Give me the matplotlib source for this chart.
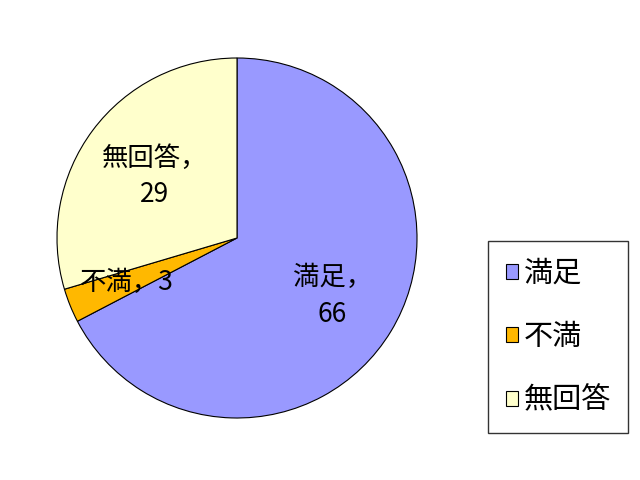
import matplotlib
matplotlib.use("Agg")
import matplotlib.pyplot as plt
import numpy as np

plt.rcParams['font.family'] = ['Noto Sans CJK JP', 'DejaVu Sans']

categories = ['満足', '不満', '無回答']
values = [66, 3, 29]
colors = ['#9999FF', '#FFB800', '#FFFFCC']
label_texts = ['満足，\n66', '不満，3', '無回答，\n29']
label_dist = [0.62, 0.66, 0.57]

fig = plt.figure(figsize=(6.4, 4.8), dpi=100)
ax = fig.add_axes([57/640, 62/480, 360/640, 360/480])
wedges, _ = ax.pie(values, colors=colors, startangle=90, counterclock=False,
                   wedgeprops=dict(edgecolor='black', linewidth=0.8))
ax.set_xlim(-1.0, 1.0)
ax.set_ylim(-1.0, 1.0)
ax.set_aspect('equal')

for w, txt, d in zip(wedges, label_texts, label_dist):
    ang = np.deg2rad((w.theta1 + w.theta2) / 2)
    ax.text(d * np.cos(ang), d * np.sin(ang), txt, ha='center', va='center',
            fontsize=19, linespacing=1.45)

leg = fig.legend(wedges, categories, loc='upper left',
                 bbox_to_anchor=(488/640, (480-241)/480), bbox_transform=fig.transFigure,
                 fontsize=21, frameon=True, fancybox=False, edgecolor='black',
                 handlelength=0.42, handleheight=0.42, handletextpad=0.2,
                 labelspacing=1.15, borderpad=0.6, borderaxespad=0)
leg.get_frame().set_linewidth(1.0)

fig.savefig('out.png', dpi=100)
